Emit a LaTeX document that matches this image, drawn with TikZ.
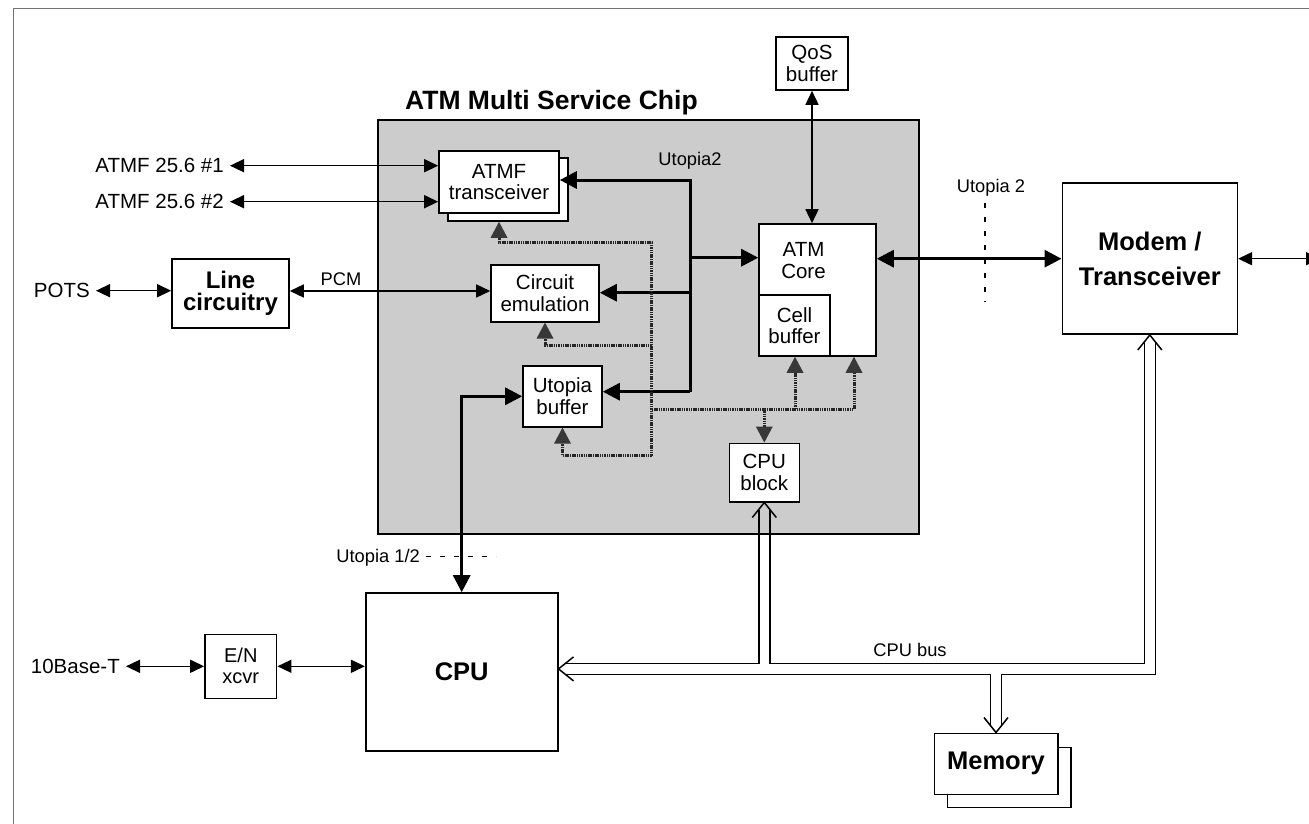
\documentclass[tikz,border=0pt]{standalone}
\usepackage{fontspec}
\setmainfont{Liberation Sans}
\usetikzlibrary{arrows.meta,calc}
\newcommand{\myfsbox}{\fontsize{20.5}{21.5}\selectfont}
\newcommand{\myfswire}{\fontsize{18.3}{20}\selectfont}
\newcommand{\myfsen}{\fontsize{20}{21}\selectfont}
\newcommand{\myfsline}{\fontsize{24}{22.5}\selectfont\bfseries}
\newcommand{\myfsbig}{\fontsize{25.5}{35}\selectfont\bfseries}
\newcommand{\myfstitle}{\fontsize{26.5}{30}\selectfont\bfseries}
\begin{document}
\begin{tikzpicture}[x=1pt,y=-1pt,
  box/.style={draw, line width=1.6pt, fill=white, inner sep=0pt, align=center, font=\myfsbox},
  bigbox/.style={box, font=\myfsbig},
  lbl/.style={inner xsep=6pt, inner ysep=0pt, font=\myfsbox},
  wlbl/.style={inner sep=0pt, font=\myfswire},
  thinline/.style={line width=1.5pt},
  thinarr/.style={thinline, {Triangle[length=14pt,width=13pt]}-{Triangle[length=14pt,width=13pt]}},
  thickto/.style={line width=3pt, -{Triangle[length=17pt,width=17pt]}},
  thickarr/.style={line width=3pt, {Triangle[length=17pt,width=17pt]}-{Triangle[length=17pt,width=17pt]}},
  hatch/.style={line width=3pt, black!85, dash pattern=on 1.5pt off 0.8pt},
  hatchto/.style={hatch, -{Triangle[length=16pt,width=17pt,line width=0pt,fill=black!78]}},
  busline/.style={line width=1.5pt, line join=miter},
  dashline/.style={line width=1.3pt, dash pattern=on 5pt off 9pt},
]
\useasboundingbox (0,0) rectangle (1309,824);
\draw[black!55, line width=1pt] (13,824) -- (13,9) -- (1309,9);

% chip
\node[draw, line width=1.8pt, fill=black!20, minimum width=541pt, minimum height=414pt, inner sep=0pt] (chip) at (648.5,327) {};
\node[anchor=base west, inner sep=0pt, font=\myfstitle] (title) at (405,109.5) {ATM Multi Service Chip};

% boxes
\node[box, minimum width=120pt, minimum height=63pt] (atmfback) at (508,189.5) {};
\node[box, minimum width=120pt, minimum height=62pt] (atmf) at (499,182) {ATMF\\transceiver};
\node[box, minimum width=108pt, minimum height=57pt] (circem) at (545,293.3) {Circuit\\emulation};
\node[box, minimum width=79pt, minimum height=61pt] (utopbuf) at (562.5,396.3) {Utopia\\buffer};
\node[box, minimum width=117pt, minimum height=132pt] (atmcore) at (817.5,290) {};
\node[inner sep=0pt, align=center, font=\myfsbox] (atmcorelbl) at (803.5,260.5) {ATM\\Core};
\node[box, minimum width=71pt, minimum height=61pt] (cellbuf) at (794.5,325.5) {Cell\\buffer};
\node[box, minimum width=70pt, minimum height=58.4pt] (cpublock) at (764.3,472.5) {CPU\\block};
\node[box, minimum width=72pt, minimum height=53pt] (qos) at (812,63.5) {QoS\\buffer};
\node[bigbox, minimum width=175pt, minimum height=151pt] (modem) at (1149.8,258.7) {Modem /\\Transceiver};
\node[bigbox, minimum width=192pt, minimum height=158pt] (cpu) at (461.7,672) {CPU};
\node[box, minimum width=123.4pt, minimum height=60pt] (memback) at (1009,777.3) {};
\node[bigbox, minimum width=123.4pt, minimum height=61pt] (memory) at (996,763.8) {Memory};
\node[box, minimum width=117pt, minimum height=69pt, font=\myfsline] (linecirc) at (230.5,293.5) {Line\\circuitry};
\node[box, minimum width=71.7pt, minimum height=64pt, font=\myfsen] (en) at (240.8,666.3) {E/N\\xcvr};

% outside labels
\node[lbl, anchor=east] (atmf1) at (230,165.7) {ATMF 25.6 \#1};
\node[lbl, anchor=east] (atmf2) at (230,201.7) {ATMF 25.6 \#2};
\node[lbl, anchor=east] (pots) at (96,290.7) {POTS};
\node[lbl, anchor=east] (tenbase) at (126,666.3) {10Base-T};

% wire labels
\node[wlbl] (pcm) at (341,279.5) {PCM};
\node[wlbl] (utopia2in) at (690,160.3) {Utopia2};
\node[wlbl] (utopia2) at (991,188) {Utopia 2};
\node[wlbl, anchor=east] (utopia12) at (420,558) {Utopia 1/2};
\node[wlbl] (cpubus) at (910,650) {CPU bus};

% dashed markers
\coordinate (u2top) at (985,203);
\coordinate (u2bot) at (985,302);
\draw[dashline] (u2top) -- (u2bot);
\coordinate (u12a) at ($(utopia12.east)+(6,-1.3)$);
\draw[dashline] (u12a) -- ++(70,0);

% thin arrows
\draw[thinarr] (atmf1.east) -- (atmf1.east -| atmf.west);
\draw[thinarr] (atmf2.east) -- (atmf2.east -| atmf.west);
\draw[thinarr] (pots.east) -- (pots.east -| linecirc.west);
\coordinate (pcmL) at ($(linecirc.east)+(0,-2.5)$);
\draw[thinarr] (pcmL) -- (pcmL -| circem.west);
\draw[thinarr] (tenbase.east) -- (tenbase.east -| en.west);
\draw[thinarr] (en.east) -- (en.east -| cpu.west);
\draw[thinarr] (qos.south) -- (qos.south |- atmcore.north);
\coordinate (rightend) at (1320,258.7);
\draw[thinarr] (modem.east) -- (rightend);

% thick arrows
\draw[thickarr] (modem.west -| atmcore.east) -- (modem.west);
\draw[thickarr] (utopbuf.west) -| (cpu.north);
\coordinate (b1) at (690,180);
\coordinate (b2) at (690,257.7);
\coordinate (b3) at (690,292.7);
\coordinate (b4) at (690,391.7);
\draw[thickto] (b4) -- (b1) -- (b1 -| atmf.east);
\draw[thickto] (b2) -- (b2 -| atmcore.west);
\draw[thickto] (b3) -- (b3 -| circem.east);
\draw[thickto] (b4) -- (b4 -| utopbuf.east);

% hatched control lines
\coordinate (h1) at (651.7,242.7);
\coordinate (h2) at (651.7,345);
\coordinate (h3) at (651.7,409);
\coordinate (h4) at (651.7,455.7);
\coordinate (h5) at (795,409);
\coordinate (h6) at (854,409);
\coordinate (h7) at (764.3,409);
\draw[hatchto] (h4) -- (h1) -| (atmf.south |- atmfback.south);
\draw[hatchto] (h2) -| (circem.south);
\draw[hatchto] (h4) -| (utopbuf.south);
\draw[hatchto] (h3) -- (h6) -- (h6 |- atmcore.south);
\draw[hatchto] (h5) -- (h5 |- atmcore.south);
\draw[hatchto] (h7) -- (cpublock.north);

% CPU bus (double lines with open heads)
\coordinate (apCPU) at ($(cpu.east)+(0,-3.1)$);
\coordinate (apCB) at (cpublock.south);
\coordinate (apMod) at (modem.south);
\coordinate (apMem) at (memory.north);
\draw[busline] ($(apCPU)+(7,-5.5)$) -- ($(apCB |- apCPU)+(-5.5,-5.5)$) -- ($(apCB)+(-5.5,7)$);
\draw[busline] ($(apCB)+(5.5,7)$) -- ($(apCB |- apCPU)+(5.5,-5.5)$) -- ($(apMod |- apCPU)+(-5.5,-5.5)$) -- ($(apMod)+(-5.5,7)$);
\draw[busline] ($(apCPU)+(7,5.5)$) -- ($(apMem |- apCPU)+(-5.5,5.5)$) -- ($(apMem)+(-5.5,-7)$);
\draw[busline] ($(apMem)+(5.5,-7)$) -- ($(apMem |- apCPU)+(5.5,5.5)$) -- ($(apMod |- apCPU)+(5.5,5.5)$) -- ($(apMod)+(5.5,7)$);
\draw[busline] ($(apCPU)+(15,-12)$) -- (apCPU) -- ($(apCPU)+(15,12)$);
\draw[busline] ($(apCB)+(-12,15)$) -- (apCB) -- ($(apCB)+(12,15)$);
\draw[busline] ($(apMod)+(-12,15)$) -- (apMod) -- ($(apMod)+(12,15)$);
\draw[busline] ($(apMem)+(-12,-15)$) -- (apMem) -- ($(apMem)+(12,-15)$);
\end{tikzpicture}
\end{document}
